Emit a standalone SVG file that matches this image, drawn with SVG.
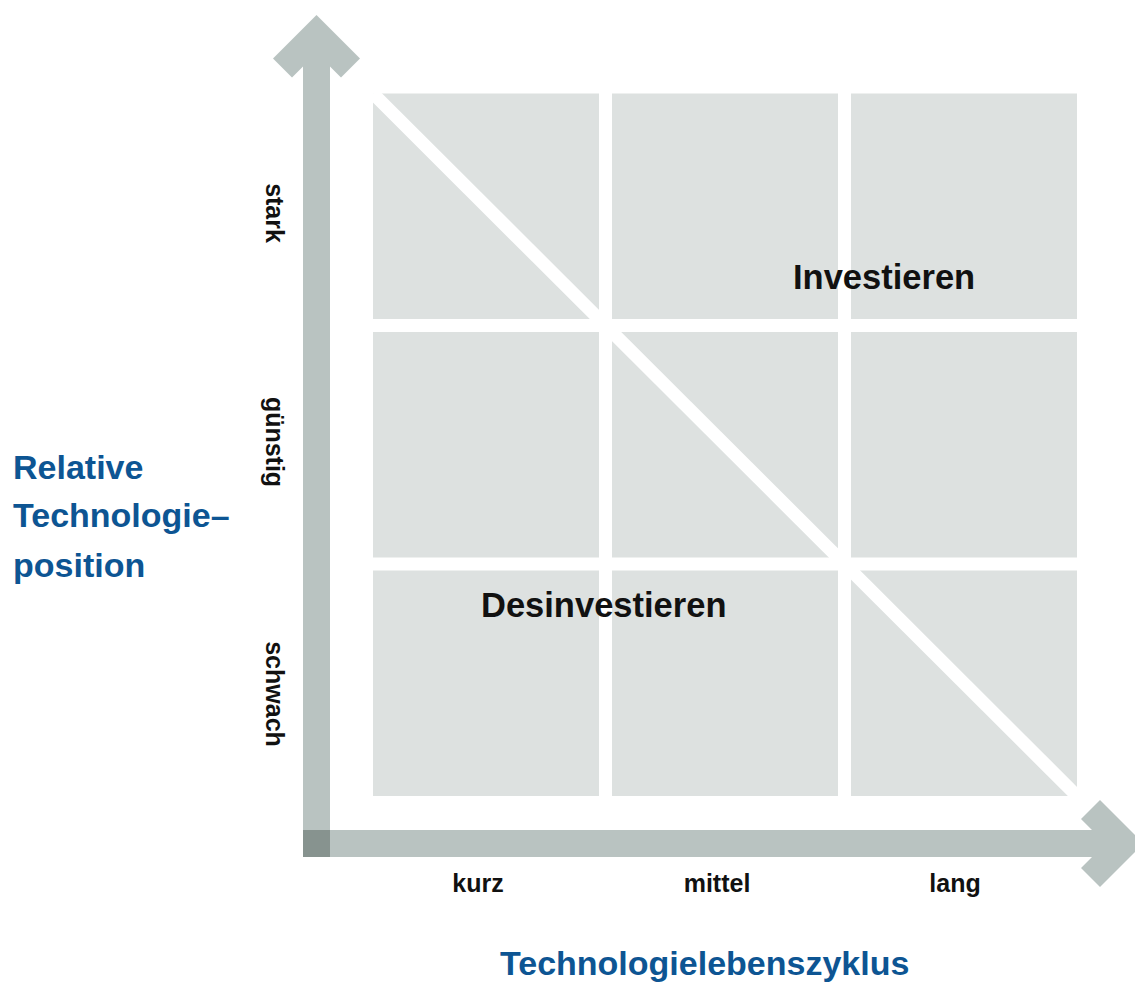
<svg xmlns="http://www.w3.org/2000/svg" width="1135" height="983" viewBox="0 0 1135 983">
<style>
.cell{fill:#dde1e0}
.bar{fill:#b9c3c1}
.corner{fill:#87938f}
.tick{font-family:"Liberation Sans",Arial,sans-serif;font-weight:bold;font-size:25px;fill:#111}
.big{font-family:"Liberation Sans",Arial,sans-serif;font-weight:bold;font-size:34.5px;fill:#111}
.axis{font-family:"Liberation Sans",Arial,sans-serif;font-weight:bold;font-size:34px;fill:#0d5593}
</style>
<rect width="1135" height="983" fill="#fff"/>
<g id="grid">
<g id="cell-1-1"><rect class="cell" x="373" y="93.5" width="226" height="225.5"/></g>
<g id="cell-1-2"><rect class="cell" x="612" y="93.5" width="226" height="225.5"/></g>
<g id="cell-1-3"><rect class="cell" x="851" y="93.5" width="226" height="225.5"/></g>
<g id="cell-2-1"><rect class="cell" x="373" y="332" width="226" height="225.5"/></g>
<g id="cell-2-2"><rect class="cell" x="612" y="332" width="226" height="225.5"/></g>
<g id="cell-2-3"><rect class="cell" x="851" y="332" width="226" height="225.5"/></g>
<g id="cell-3-1"><rect class="cell" x="373" y="570.5" width="226" height="225.5"/></g>
<g id="cell-3-2"><rect class="cell" x="612" y="570.5" width="226" height="225.5"/></g>
<g id="cell-3-3"><rect class="cell" x="851" y="570.5" width="226" height="225.5"/></g>
</g>
<g id="connectors">
<line id="diagonal" x1="373" y1="93.5" x2="1077" y2="796" stroke="#fff" stroke-width="13"/>
<polygon id="y-axis" class="bar" points="316.5,15 360,58.5 341,77.5 330,66.5 330,830 303,830 303,66.5 292,77.5 273,58.5"/>
<polygon id="x-axis" class="bar" points="330,830 1092,830 1081,819 1100,800 1143.5,843.5 1100,887 1081,868 1092,857 330,857"/>
<rect id="origin" class="corner" x="303" y="830" width="27" height="27"/>
</g>
<g id="label-investieren"><text class="big" x="793" y="289">Investieren</text></g>
<g id="label-desinvestieren"><text class="big" x="481" y="617">Desinvestieren</text></g>
<g id="y-ticks">
<text class="tick" text-anchor="middle" transform="translate(266,213) rotate(90)">stark</text>
<text class="tick" text-anchor="middle" transform="translate(266,442) rotate(90)">günstig</text>
<text class="tick" text-anchor="middle" transform="translate(266,694) rotate(90)">schwach</text>
</g>
<g id="x-ticks">
<text class="tick" text-anchor="middle" x="478" y="892">kurz</text>
<text class="tick" text-anchor="middle" x="717" y="892">mittel</text>
<text class="tick" text-anchor="middle" x="955" y="892">lang</text>
</g>
<g id="y-title">
<text class="axis" x="13" y="479">Relative</text>
<text class="axis" x="13" y="527">Technologie–</text>
<text class="axis" x="13" y="577">position</text>
</g>
<g id="x-title"><text class="axis" x="500" y="975">Technologielebenszyklus</text></g>
</svg>
